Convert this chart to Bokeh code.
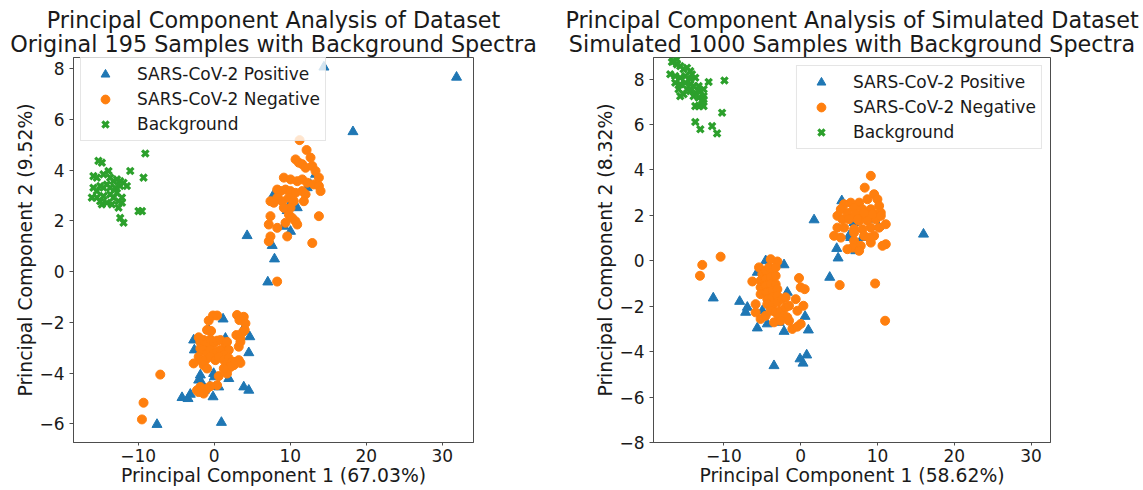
from bokeh.plotting import figure
from bokeh.models import Range1d, FixedTicker, Legend, LegendItem, Title
from bokeh.layouts import row
from bokeh.embed import file_html
from bokeh.resources import INLINE

FONT = "DejaVu Sans"
TXT = "#1a1a1a"
SPINE = "#4d4d4d"
BLUE = "#1f77b4"
ORANGE = "#ff7f0e"
GREEN = "#2ca02c"
HEIGHT = 490
BOTTOM = 48

LABELS = ["SARS-CoV-2 Positive", "SARS-CoV-2 Negative", "Background"]
x_ticks = [-10, 0, 10, 20, 30]
left_y_ticks = [-6, -4, -2, 0, 2, 4, 6, 8]
right_y_ticks = [-8, -6, -4, -2, 0, 2, 4, 6, 8]

# ---------------- Original dataset (left) ----------------
orig_pos_x = [14.43, 31.87, 18.25, 12.24, 12.67, 7.84, 9.82, 10.92, 9.16, 10.04, 4.33, 7.63, 13.33, 9.6,
              1.17, 7.93, 7.05, 3.89, 4.68, 4.55, 3.89, 4.55, -7.52, 0.95, -4.23, -3.44, -3.14, -0.15,
              -1.82, -2.04, -1.60, -0.07, 0.03, 1.92, 1.48, -0.72, -2.70, -2.61, -1.29, -0.59, 0.60]
orig_pos_y = [8.07, 7.67, 5.52, 3.31, 3.44, 3.05, 2.58, 2.52, 1.79, 1.59, 1.42, 1.03, 3.84, 2.41,
              -1.87, 0.50, -0.41, -2.24, -2.57, -3.20, -4.55, -4.68, -6.03, -5.95, -4.97, -5.01, -4.84, -4.94,
              -4.08, -4.28, -4.41, -4.02, -4.15, -4.22, -2.63, -2.30, -2.70, -3.09, -4.68, -4.52, -4.55]

orig_neg_x = [11.23, 12.15, 12.67, 10.70, 11.13, 11.58, 12.02, 12.90, 13.33, 13.77, 9.16, 10.04, 10.92,
              11.58, 12.24, 13.11, 13.77, 13.99, 8.29, 8.72, 9.38, 10.04, 10.70, 11.58, 12.02, 8.29, 8.95,
              9.82, 10.47, 11.79, 7.40, 7.84, 9.82, 10.26, 10.70, 7.40, 7.18, 8.29, 9.38, 10.92, 13.77,
              7.40, 7.18, 9.60, 12.90, 10.04, 9.16,
              8.28, -0.72, -0.15, 0.38, -0.94, -0.41, -2.04, -1.82, -1.38, -0.94, -0.50, -0.07, 0.38, 0.82,
              1.48, 1.69, 1.92, -1.82, -1.38, -0.94, -0.50, -0.07, 0.38, 0.82, 1.26, -2.04, -1.82, -1.16,
              -0.50, 0.16, 0.60, 1.26, 1.69, 1.92, 2.35, 2.79, 3.23, 3.45, 2.57, 2.14, 3.01, 3.32, 3.89,
              4.11, 2.92, 3.45, 3.80, 4.02, 3.23, 3.45, -2.70, -1.38, -0.94, -7.09, 0.60, 0.38, -0.50,
              -0.94, -1.82, -2.26, -2.04, -1.38, -9.29, -9.50, 1.69, 1.26]
orig_neg_y = [5.19, 4.80, 4.50, 4.43, 4.30, 4.24, 4.10, 4.17, 3.97, 3.71, 3.71, 3.64, 3.57,
              3.64, 3.51, 3.44, 3.38, 3.18, 3.24, 3.18, 3.24, 3.18, 3.11, 3.18, 3.05, 2.92, 2.78,
              2.92, 2.78, 2.78, 2.78, 2.72, 2.25, 2.12, 1.99, 2.19, 1.86, 1.73, 1.93, 1.86, 2.19,
              1.39, 1.20, 1.39, 1.13, 2.52, 2.52,
              -0.39, -1.93, -1.73, -1.73, -2.30, -2.34, -2.59, -2.77, -2.70, -2.83, -2.67, -2.83, -2.72, -2.70,
              -2.96, -2.77, -3.09, -3.03, -3.09, -3.23, -3.09, -3.23, -3.16, -3.09, -3.29, -3.36, -3.49, -3.49,
              -3.36, -3.49, -3.36, -3.49, -3.62, -3.42, -3.56, -3.56, -3.49, -3.60, -3.69, -3.76, -1.71, -1.91, -1.78,
              -2.04, -2.50, -2.63, -2.37, -2.30, -2.96, -2.77, -3.62, -3.69, -3.82, -4.06, -4.12, -4.48, -4.52,
              -4.61, -4.55, -4.68, -4.75, -4.81, -5.17, -5.83, -4.02, -3.82]

orig_bg_x = [-15.22, -14.77, -15.88, -15.43, -14.56, -13.90, -13.68, -13.24, -12.79, -12.36, -11.92,
             -14.11, -14.99, -14.56, -13.68, -13.02, -12.36, -11.48, -11.04, -9.06, -9.29, -16.09, -15.43,
             -14.99, -14.56, -13.68, -13.24, -12.58, -12.13, -12.79, -12.13, -14.77, -14.11, -13.45, -12.58,
             -9.95, -9.50, -12.36, -11.92, -15.43, -15.88]
orig_bg_y = [4.37, 4.30, 3.77, 3.71, 3.84, 3.97, 3.71, 3.57, 3.64, 3.57, 3.51,
             3.44, 3.38, 3.31, 3.31, 3.31, 3.38, 3.38, 3.97, 4.66, 3.71, 2.92, 2.92,
             2.78, 2.98, 3.05, 2.92, 2.78, 2.92, 3.11, 2.72, 2.65, 2.72, 2.65, 2.52,
             2.39, 2.39, 2.12, 1.93, 3.18, 3.31]

# ---------------- Simulated dataset (right) ----------------
sim_pos_x = [5.35, 1.74, 4.69, 4.87, 6.95, 6.30, 9.56, 10.13, 8.04, 7.17, 15.99, 6.52,
             -11.39, -7.95, -6.95, -7.17, -5.65, -5.00, -4.35, -3.48, -2.17, -1.74, -2.17, 0.57, 1.00,
             -0.09, 0.30, 0.78, 3.78, -2.82, -4.56, -5.65]
sim_pos_y = [2.64, 1.80, 0.54, 0.12, 1.68, 1.10, 1.83, 1.51, 1.02, 0.44, 1.17, 1.02,
             -1.64, -1.79, -2.05, -2.27, -2.96, -2.20, -2.78, -4.62, -0.18, -1.39, -3.11, -2.45, -3.05,
             -4.32, -4.51, -4.15, -0.73, -2.71, 0.00, -0.51]

sim_neg_x = [9.13, 8.34, 9.56, 9.99, 8.69, 7.61, 6.52, 5.65, 6.95, 8.04, 9.13, 10.21, 5.22, 6.08, 7.17,
             8.26, 9.56, 10.43, 4.78, 5.43, 6.30, 7.61, 8.69, 9.78, 11.08, 4.78, 5.65, 6.95, 8.04, 9.13,
             10.21, 4.35, 5.22, 6.95, 8.26, 9.56, 6.74, 7.82, 9.13, 6.95, 11.08, 6.08, 7.61,
             10.65, 8.91, 9.34, 8.26, 10.43, 7.39,
             -13.12, -12.82, -10.43, -6.30, -5.87, -5.87, -5.22, -4.56, -3.91, -3.04, -5.43, -5.00, -4.56,
             -4.13, -3.69, -3.26, -5.22, -4.56, -3.91, -3.26, -5.22, -4.56, -3.91, -3.26, -5.22, -4.43,
             -3.69, -3.04, -4.35, -3.69, -3.04, -4.35, -3.69, -3.04, -2.39, -1.96, -3.91, -3.26, -2.61,
             -1.96, -1.52, -3.48, -2.82, -2.17, -1.74, -1.52, -2.61, -1.09, -0.43, 0.00, -0.65, -0.43,
             0.35, -0.22, 0.00, 0.52, 5.08, 9.69, 10.99]
sim_neg_y = [3.74, 3.22, 2.93, 2.71, 2.71, 2.56, 2.56, 2.49, 2.34, 2.27, 2.27, 2.42, 2.27, 2.12, 2.05,
             1.98, 2.05, 2.12, 1.98, 1.83, 1.83, 1.76, 1.76, 1.83, 1.61, 1.46, 1.46, 1.39, 1.39, 1.46,
             1.46, 1.10, 1.02, 0.88, 1.10, 1.10, 0.58, 0.66, 0.80, 1.24, 0.73, 0.51, 0.44,
             0.66, 1.02, 2.05, 2.12, 1.98, 1.83,
             -0.66, -0.18, 0.18, -0.91, -1.91, -2.27, -2.56, -2.42, 0.07, -0.03, -0.29, -0.59, -0.44,
             -0.29, -0.51, -0.29, -0.88, -0.81, -0.73, -0.66, -1.17, -1.10, -1.03, -1.03, -1.47, -1.39,
             -1.32, -1.25, -1.69, -1.61, -1.54, -1.91, -1.98, -1.83, -1.69, -1.61, -2.20, -2.27, -2.20,
             -2.05, -1.98, -2.71, -2.49, -2.42, -2.49, -2.64, -2.64, -3.00, -2.90, -2.78, -1.69, -2.20,
             -1.98, -0.76, -1.17, -1.25, -1.07, -1.00, -2.64]

sim_bg_x = [-16.56, -16.12, -15.69, -15.25, -14.81, -14.38, -14.16, -16.99, -16.34, -15.69, -15.03,
            -14.38, -13.73, -16.34, -15.69, -15.03, -14.38, -13.95, -13.29, -14.81, -14.38, -13.73,
            -13.07, -12.64, -15.91, -15.69, -15.25, -13.95, -13.29, -12.64, -13.73, -13.29, -12.64,
            -11.99, -9.93, -10.24, -13.73, -13.07, -11.54, -10.89, -12.64, -12.85, -16.12, -16.77]
sim_bg_y = [8.79, 8.65, 8.57, 8.43, 8.50, 8.35, 8.21, 8.21, 8.13, 8.06, 8.13,
            7.99, 8.06, 7.84, 7.77, 7.84, 7.77, 7.69, 7.69, 7.55, 7.47, 7.40,
            7.47, 7.55, 7.55, 7.25, 7.33, 7.25, 7.18, 7.25, 6.81, 6.81, 6.81,
            7.87, 7.94, 6.52, 6.11, 5.79, 5.93, 5.61, 7.11, 6.89, 8.87, 8.75]


def minus(v):
    return str(v).replace("-", "\u2212")


def make_plot(line1, line2, xlabel, ylabel, pos, neg, bg, xr, yr, yticks,
              width, bl, br, bt, legend_loc):
    p = figure(width=width, height=HEIGHT, x_range=Range1d(*xr), y_range=Range1d(*yr),
               output_backend="svg", toolbar_location=None,
               min_border_left=bl, min_border_right=br, min_border_top=bt, min_border_bottom=BOTTOM)
    p.xgrid.visible = False
    p.ygrid.visible = False
    p.outline_line_color = SPINE
    p.outline_line_width = 1
    p.background_fill_color = "white"
    p.border_fill_color = "white"
    p.xaxis.ticker = FixedTicker(ticks=x_ticks)
    p.yaxis.ticker = FixedTicker(ticks=yticks)
    p.xaxis.major_label_overrides = {t: minus(t) for t in x_ticks}
    p.yaxis.major_label_overrides = {t: minus(t) for t in yticks}
    p.xaxis.axis_label = xlabel
    p.yaxis.axis_label = ylabel
    for ax in (p.xaxis[0], p.yaxis[0]):
        ax.axis_line_color = SPINE
        ax.major_tick_line_color = SPINE
        ax.major_tick_in = 0
        ax.minor_tick_line_color = None
        ax.major_label_text_font = FONT
        ax.major_label_text_font_size = "17px"
        ax.major_label_text_color = TXT
        ax.axis_label_text_font = FONT
        ax.axis_label_text_font_size = "18.8px"
        ax.axis_label_text_font_style = "normal"
        ax.axis_label_text_color = TXT
        ax.axis_label_standoff = 0
    p.xaxis.major_tick_out = 3
    p.xaxis.major_label_standoff = 3
    p.yaxis.major_tick_out = 4
    p.yaxis.major_label_standoff = 5

    r1 = p.scatter(pos[0], pos[1], marker="triangle", size=10, fill_color=BLUE, line_color=BLUE)
    r2 = p.scatter(neg[0], neg[1], marker="circle", size=9, fill_color=ORANGE, line_color=ORANGE)
    r3 = p.scatter(bg[0], bg[1], marker="x", size=9, line_color=GREEN, line_width=3.2)

    legend = Legend(items=[LegendItem(label=LABELS[0], renderers=[r1]),
                           LegendItem(label=LABELS[1], renderers=[r2]),
                           LegendItem(label=LABELS[2], renderers=[r3])],
                    location=legend_loc, margin=8, padding=5, spacing=3,
                    glyph_width=38, glyph_height=22, label_height=22, label_standoff=13,
                    label_text_font=FONT, label_text_font_size="17px", label_text_color=TXT,
                    border_line_color="#cccccc", border_line_width=1,
                    background_fill_color="white", background_fill_alpha=0.8)
    p.add_layout(legend)

    title = Title(text=line1 + "\n" + line2, align="center", vertical_align="bottom",
                  text_font=FONT, text_font_size="22.3px", text_font_style="normal",
                  text_color=TXT, text_line_height=0.96, standoff=0, offset=0)
    if "text_align" in Title.properties():
        title.text_align = "center"
    p.add_layout(title, "above")
    return p


frame_h = HEIGHT - 57 - BOTTOM
p1 = make_plot("Principal Component Analysis of Dataset",
               "Original 195 Samples with Background Spectra",
               "Principal Component 1 (67.03%)", "Principal Component 2 (9.52%)",
               (orig_pos_x, orig_pos_y), (orig_neg_x, orig_neg_y), (orig_bg_x, orig_bg_y),
               (-18.5, 34.1), (-6.74, 8.45), left_y_ticks,
               560, 73, 87, 57, (7, frame_h - 2 - 82))

p2 = make_plot("Principal Component Analysis of Simulated Dataset",
               "Simulated 1000 Samples with Background Spectra",
               "Principal Component 1 (58.62%)", "Principal Component 2 (8.32%)",
               (sim_pos_x, sim_pos_y), (sim_neg_x, sim_neg_y), (sim_bg_x, sim_bg_y),
               (-19.17, 32.53), (-8.0, 8.95), right_y_ticks,
               583, 93, 93, 57, "top_right")

layout = row(p1, p2)
open("out.html", "w").write(file_html(layout, INLINE))
